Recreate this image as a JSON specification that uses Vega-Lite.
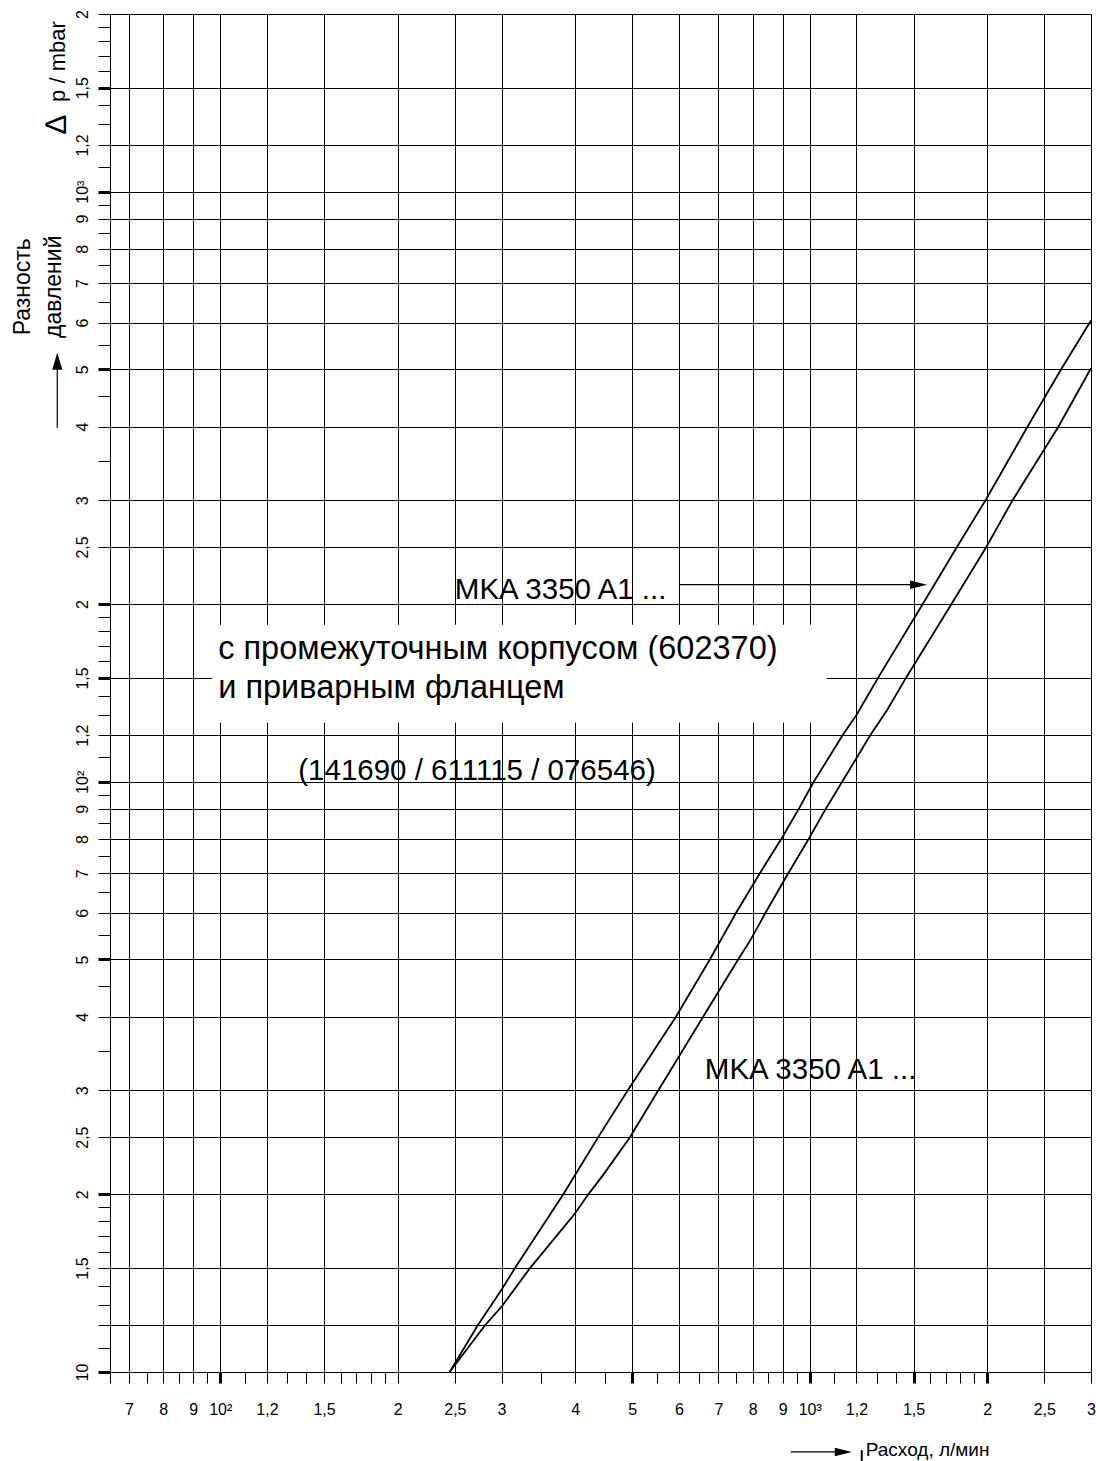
{
  "$schema": "https://vega.github.io/schema/vega-lite/v6.json",
  "width": 981,
  "height": 1358,
  "autosize": {"type": "none"},
  "padding": {"left": 110, "top": 14, "right": 5, "bottom": 89},
  "background": "white",
  "config": {
    "view": {"stroke": "black", "strokeWidth": 1},
    "axis": {
      "domainColor": "black",
      "tickColor": "black",
      "gridColor": "black",
      "labelColor": "black",
      "labelFont": "Liberation Sans",
      "labelFontSize": 16,
      "labelOverlap": false,
      "labelFlush": false,
      "labelBound": false
    },
    "text": {"font": "Liberation Sans", "color": "black"}
  },
  "data": {"values": [
    {"curve": "A", "q": 245, "p": 10},
    {"curve": "A", "q": 273.4, "p": 12},
    {"curve": "A", "q": 299.8, "p": 13.77},
    {"curve": "A", "q": 316.2, "p": 15},
    {"curve": "A", "q": 381.9, "p": 20},
    {"curve": "A", "q": 437.7, "p": 25},
    {"curve": "A", "q": 491, "p": 30},
    {"curve": "A", "q": 592.9, "p": 40},
    {"curve": "A", "q": 676.9, "p": 50},
    {"curve": "A", "q": 750, "p": 60},
    {"curve": "A", "q": 822.9, "p": 70},
    {"curve": "A", "q": 894.7, "p": 80},
    {"curve": "A", "q": 958, "p": 90},
    {"curve": "A", "q": 1015.7, "p": 100},
    {"curve": "A", "q": 1137.5, "p": 120},
    {"curve": "A", "q": 1201, "p": 129.9},
    {"curve": "A", "q": 1305.5, "p": 150},
    {"curve": "A", "q": 1554, "p": 200},
    {"curve": "A", "q": 1777, "p": 250},
    {"curve": "A", "q": 1987, "p": 300},
    {"curve": "A", "q": 2342, "p": 400},
    {"curve": "A", "q": 2670, "p": 500},
    {"curve": "A", "q": 3000, "p": 605},
    {"curve": "B", "q": 245, "p": 10},
    {"curve": "B", "q": 281.3, "p": 12},
    {"curve": "B", "q": 300, "p": 12.9},
    {"curve": "B", "q": 335.3, "p": 15},
    {"curve": "B", "q": 400, "p": 18.58},
    {"curve": "B", "q": 421, "p": 20},
    {"curve": "B", "q": 446.3, "p": 21.58},
    {"curve": "B", "q": 495.4, "p": 25},
    {"curve": "B", "q": 553.3, "p": 30},
    {"curve": "B", "q": 659.4, "p": 40},
    {"curve": "B", "q": 756, "p": 50},
    {"curve": "B", "q": 793.5, "p": 53.97},
    {"curve": "B", "q": 841.3, "p": 60},
    {"curve": "B", "q": 919.5, "p": 70},
    {"curve": "B", "q": 995.7, "p": 80},
    {"curve": "B", "q": 1064.4, "p": 90},
    {"curve": "B", "q": 1135, "p": 100},
    {"curve": "B", "q": 1267.4, "p": 120},
    {"curve": "B", "q": 1354, "p": 132.5},
    {"curve": "B", "q": 1456, "p": 150},
    {"curve": "B", "q": 1738.6, "p": 200},
    {"curve": "B", "q": 1993, "p": 250},
    {"curve": "B", "q": 2208.4, "p": 300},
    {"curve": "B", "q": 2642.6, "p": 400},
    {"curve": "B", "q": 3000, "p": 502}
  ]},
  "encoding": {
    "x": {
      "field": "q",
      "type": "quantitative",
      "scale": {"type": "log", "domain": [65, 3000], "nice": false},
      "axis": {
        "title": null,
        "values": [65,70,75,80,85,90,95,100,110,120,130,140,150,160,170,180,190,200,250,300,350,400,450,500,550,600,650,700,750,800,850,900,950,1000,1100,1200,1300,1400,1500,1600,1700,1800,1900,2000,2500,3000],
        "grid": true,
        "gridWidth": 1,
        "gridOpacity": {"condition": {"test": "indexof([70,80,90,100,120,150,200,250,300,400,500,600,700,800,900,1000,1200,1500,2000,2500,3000], datum.value) >= 0", "value": 1}, "value": 0},
        "tickSize": 11,
        "tickWidth": {"condition": {"test": "indexof([100,500,1000,1500,2000], datum.value) >= 0", "value": 3}, "value": 1},
        "labelBaseline": "alphabetic",
        "labelPadding": 31,
        "labelExpr": "indexof([70,80,90,100,120,150,200,250,300,400,500,600,700,800,900,1000,1200,1500,2000,2500,3000], datum.value) >= 0 ? ['7','8','9','10²','1,2','1,5','2','2,5','3','4','5','6','7','8','9','10³','1,2','1,5','2','2,5','3'][indexof([70,80,90,100,120,150,200,250,300,400,500,600,700,800,900,1000,1200,1500,2000,2500,3000], datum.value)] : ''"
      }
    },
    "y": {
      "field": "p",
      "type": "quantitative",
      "scale": {"type": "log", "domain": [10, 2000], "nice": false},
      "axis": {
        "title": null,
        "values": [10,11,12,13,14,15,16,17,18,19,20,25,30,35,40,45,50,55,60,65,70,75,80,85,90,95,100,110,120,130,140,150,160,170,180,190,200,250,300,350,400,450,500,550,600,650,700,750,800,850,900,950,1000,1100,1200,1300,1400,1500,1600,1700,1800,1900,2000],
        "grid": true,
        "gridWidth": 1,
        "gridOpacity": {"condition": {"test": "indexof([10,12,15,20,25,30,40,50,60,70,80,90,100,120,150,200,250,300,400,500,600,700,800,900,1000,1200,1500,2000], datum.value) >= 0", "value": 1}, "value": 0},
        "tickSize": 12,
        "tickWidth": {"condition": {"test": "indexof([10,20,50,100,150,200,500,1000,1500], datum.value) >= 0", "value": 3}, "value": 1},
        "labelAngle": 270,
        "labelAlign": "center",
        "labelBaseline": "alphabetic",
        "labelPadding": 11,
        "labelExpr": "indexof([10,15,20,25,30,40,50,60,70,80,90,100,120,150,200,250,300,400,500,600,700,800,900,1000,1200,1500,2000], datum.value) >= 0 ? ['10','1,5','2','2,5','3','4','5','6','7','8','9','10²','1,2','1,5','2','2,5','3','4','5','6','7','8','9','10³','1,2','1,5','2'][indexof([10,15,20,25,30,40,50,60,70,80,90,100,120,150,200,250,300,400,500,600,700,800,900,1000,1200,1500,2000], datum.value)] : ''"
      }
    }
  },
  "layer": [
    {
      "data": {"values": [{"q": 96.9, "q2": 1068.6, "p": 184.5, "p2": 125.9}]},
      "mark": {"type": "rect", "fill": "white", "stroke": null},
      "encoding": {"x2": {"field": "q2"}, "y2": {"field": "p2"}}
    },
    {
      "mark": {"type": "line", "color": "black", "strokeWidth": 1.8},
      "encoding": {"detail": {"field": "curve"}}
    },
    {
      "data": {"values": [
        {"q": 250, "p": 204.3, "t": "MKA 3350 A1 ..."},
        {"q": 135.6, "p": 100.8, "t": "(141690 / 611115 / 076546)"},
        {"q": 663.8, "p": 31.4, "t": "MKA 3350 A1 ..."}
      ]},
      "mark": {"type": "text", "fontSize": 29.5, "align": "left", "baseline": "alphabetic"},
      "encoding": {"text": {"field": "t"}}
    },
    {
      "data": {"values": [
        {"q": 99.2, "p": 161.6, "t": "с промежуточным корпусом (602370)"},
        {"q": 99.2, "p": 138.8, "t": "и приварным фланцем"}
      ]},
      "mark": {"type": "text", "fontSize": 32.5, "align": "left", "baseline": "alphabetic"},
      "encoding": {"text": {"field": "t"}}
    },
    {
      "data": {"values": [
        {"q": 46.2, "p": 690, "t": "Разность"},
        {"q": 52.3, "p": 690, "t": "давлений"}
      ]},
      "mark": {"type": "text", "fontSize": 23, "angle": 270, "align": "center", "baseline": "middle"},
      "encoding": {"text": {"field": "t"}}
    },
    {
      "data": {"values": [{"q": 53.1, "p": 1661, "t": "p / mbar"}]},
      "mark": {"type": "text", "fontSize": 22, "angle": 270, "align": "center", "baseline": "middle"},
      "encoding": {"text": {"field": "t"}}
    },
    {
      "data": {"values": [{"q": 52.9, "p": 1298.6, "t": "∆"}]},
      "mark": {"type": "text", "fontSize": 30, "angle": 270, "align": "center", "baseline": "middle"},
      "encoding": {"text": {"field": "t"}}
    },
    {
      "data": {"values": [{"q": 1244.5, "p": 7.21, "t": "Расход, л/мин"}]},
      "mark": {"type": "text", "fontSize": 19, "align": "left", "baseline": "alphabetic"},
      "encoding": {"text": {"field": "t"}}
    },
    {
      "data": {"values": [
        {"q": 602.1, "q2": 1494.7, "p": 215.8},
        {"q": 928.6, "q2": 1106.6, "p": 7.32}
      ]},
      "mark": {"type": "rule", "color": "black", "strokeWidth": 1.2},
      "encoding": {"x2": {"field": "q2"}}
    },
    {
      "data": {"values": [{"q": 52.9, "p": 398.1, "p2": 507.2}]},
      "mark": {"type": "rule", "color": "black", "strokeWidth": 1.2},
      "encoding": {"y2": {"field": "p2"}}
    },
    {
      "data": {"values": [{"q": 1225.3, "p": 7.37, "p2": 7.07}]},
      "mark": {"type": "rule", "color": "black", "strokeWidth": 2},
      "encoding": {"y2": {"field": "p2"}}
    },
    {
      "data": {"values": [{"q": 1530, "p": 215.8}, {"q": 1139.7, "p": 7.32}]},
      "mark": {"type": "point", "shape": "M-1,-0.5L1,0L-1,0.5Z", "filled": true, "color": "black", "opacity": 1, "size": 289, "strokeWidth": 0}
    },
    {
      "data": {"values": [{"q": 52.9, "p": 516}]},
      "mark": {"type": "point", "shape": "M-0.6,1L0,-1L0.6,1Z", "filled": true, "color": "black", "opacity": 1, "size": 289, "strokeWidth": 0}
    }
  ]
}
